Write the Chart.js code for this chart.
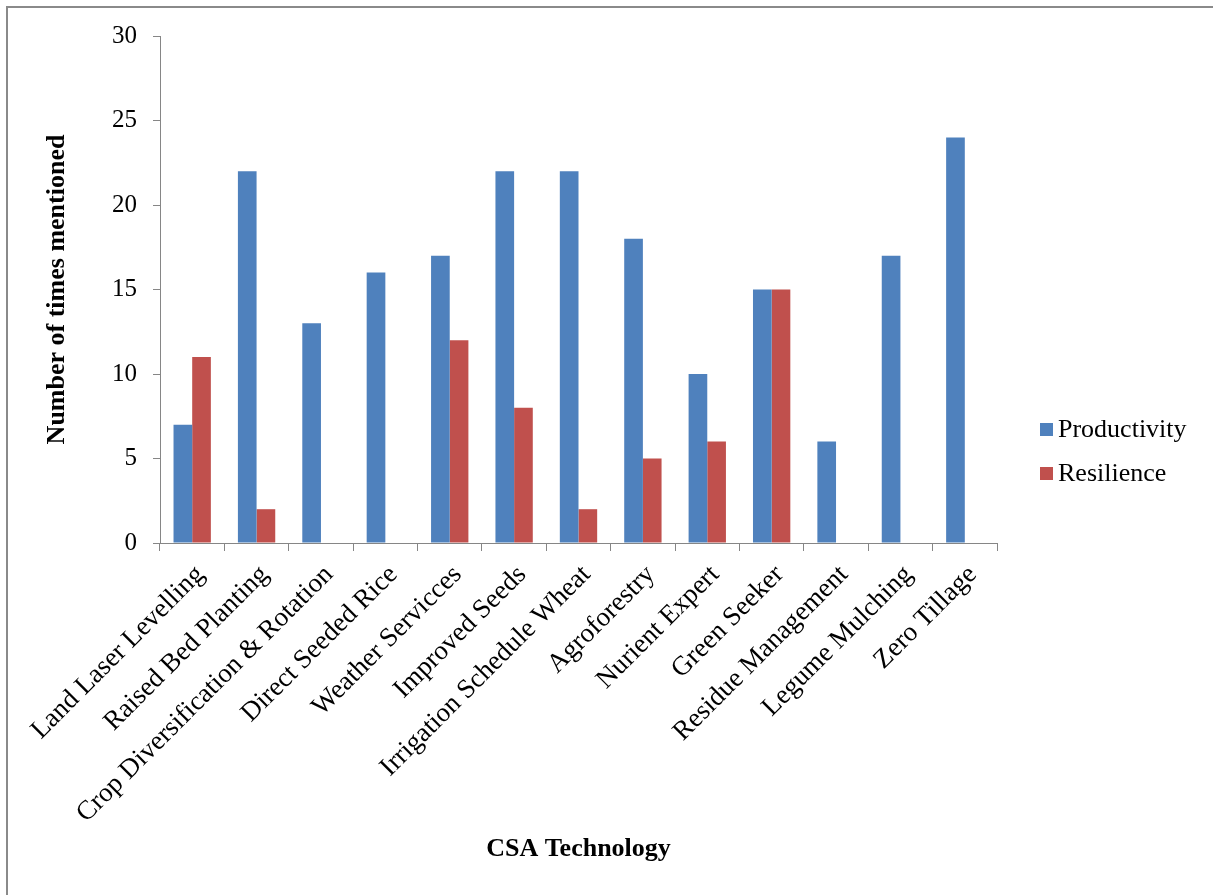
<!DOCTYPE html>
<html>
<head>
<meta charset="utf-8">
<title>CSA Technology mentions</title>
<script src="https://cdn.jsdelivr.net/npm/chart.js@4.4.1/dist/chart.umd.min.js"></script>
<style>
  html, body { margin: 0; padding: 0; background: #ffffff; }
  #wrap { position: relative; width: 1213px; height: 895px; overflow: hidden; }
  #frame {
    position: absolute; left: 6px; top: 6px; width: 1300px; height: 1000px;
    border-left: 2px solid #8a8a8a; border-top: 2px solid #8a8a8a;
    box-sizing: border-box;
  }
  #chart { position: absolute; left: 0; top: 0; }
</style>
</head>
<body>
<div id="wrap">
  <div id="frame"></div>
  <canvas id="chart" width="1213" height="895"></canvas>
</div>
<script>
// Technologies and how often each was mentioned for productivity / resilience
const categories = [
  'Land Laser Levelling', 'Raised Bed Planting', 'Crop Diversification & Rotation',
  'Direct Seeded Rice', 'Weather Servicces', 'Improved Seeds',
  'Irrigation Schedule Wheat', 'Agroforestry', 'Nurient Expert', 'Green Seeker',
  'Residue Management', 'Legume Mulching', 'Zero Tillage'
];
const productivity = [7, 22, 13, 16, 17, 22, 22, 18, 10, 15, 6, 17, 24];
const resilience   = [11, 2, 0, 0, 12, 8, 2, 5, 6, 15, 0, 0, 0];
const yTicks = [0, 5, 10, 15, 20, 25, 30];

const FONT = '"Liberation Serif", "Times New Roman", serif';
const AXIS_GREY = '#868686';

// Legend drawn to the right of the plot, with its own gap from the axes
const sideLegend = {
  id: 'sideLegend',
  afterDraw(chart, args, opts) {
    const ctx = chart.ctx;
    const area = chart.chartArea;
    const items = chart.data.datasets;
    const x = area.right + opts.gap;
    const total = (items.length - 1) * opts.spacing;
    let y = chart.height / 2 + opts.shift - total / 2;
    ctx.save();
    ctx.font = opts.fontSize + 'px ' + FONT;
    ctx.textBaseline = 'middle';
    ctx.textAlign = 'left';
    items.forEach(ds => {
      ctx.fillStyle = ds.backgroundColor;
      ctx.fillRect(x, y - opts.box / 2, opts.box, opts.box);
      ctx.fillStyle = '#000000';
      ctx.fillText(ds.label, x + opts.box + 5, y + 1);
      y += opts.spacing;
    });
    ctx.restore();
  }
};

new Chart(document.getElementById('chart'), {
  type: 'bar',
  data: {
    labels: categories,
    datasets: [
      { label: 'Productivity', data: productivity, backgroundColor: '#4F81BD',
        categoryPercentage: 0.58, barPercentage: 1.0 },
      { label: 'Resilience', data: resilience, backgroundColor: '#C0504D',
        categoryPercentage: 0.58, barPercentage: 1.0 }
    ]
  },
  options: {
    responsive: false,
    animation: false,
    layout: { padding: { left: 20, top: 36, right: 216, bottom: 20 } },
    plugins: {
      legend: { display: false },
      tooltip: { enabled: false },
      sideLegend: { gap: 43, box: 13, spacing: 44, fontSize: 26, shift: 4 }
    },
    scales: {
      x: {
        grid: { display: true, drawOnChartArea: false, drawTicks: true,
                tickLength: 8, color: AXIS_GREY, offset: true },
        border: { display: true, color: AXIS_GREY, width: 1 },
        ticks: {
          autoSkip: false, maxRotation: 45, minRotation: 45,
          color: '#000000', padding: 8, labelOffset: 8,
          font: { family: FONT, size: 27 }
        },
        title: {
          display: true, text: 'CSA Technology', color: '#000000',
          font: { family: FONT, size: 26, weight: 'bold' },
          padding: { top: 0, bottom: 10 }
        },
        afterFit(scale) { scale.height = 332; }
      },
      y: {
        min: 0, max: 30,
        afterBuildTicks(scale) { scale.ticks = yTicks.map(v => ({ value: v })); },
        grid: { display: true, drawOnChartArea: false, drawTicks: true,
                tickLength: 7, color: AXIS_GREY },
        border: { display: true, color: AXIS_GREY, width: 1 },
        ticks: {
          color: '#000000', padding: 16,
          font: { family: FONT, size: 25 }
        },
        title: {
          display: true, text: 'Number of times mentioned', color: '#000000',
          font: { family: FONT, size: 26, weight: 'bold' },
          padding: { top: 22, bottom: 0 }
        },
        afterFit(scale) { scale.width = 140; }
      }
    }
  },
  plugins: [sideLegend]
});
</script>
</body>
</html>
